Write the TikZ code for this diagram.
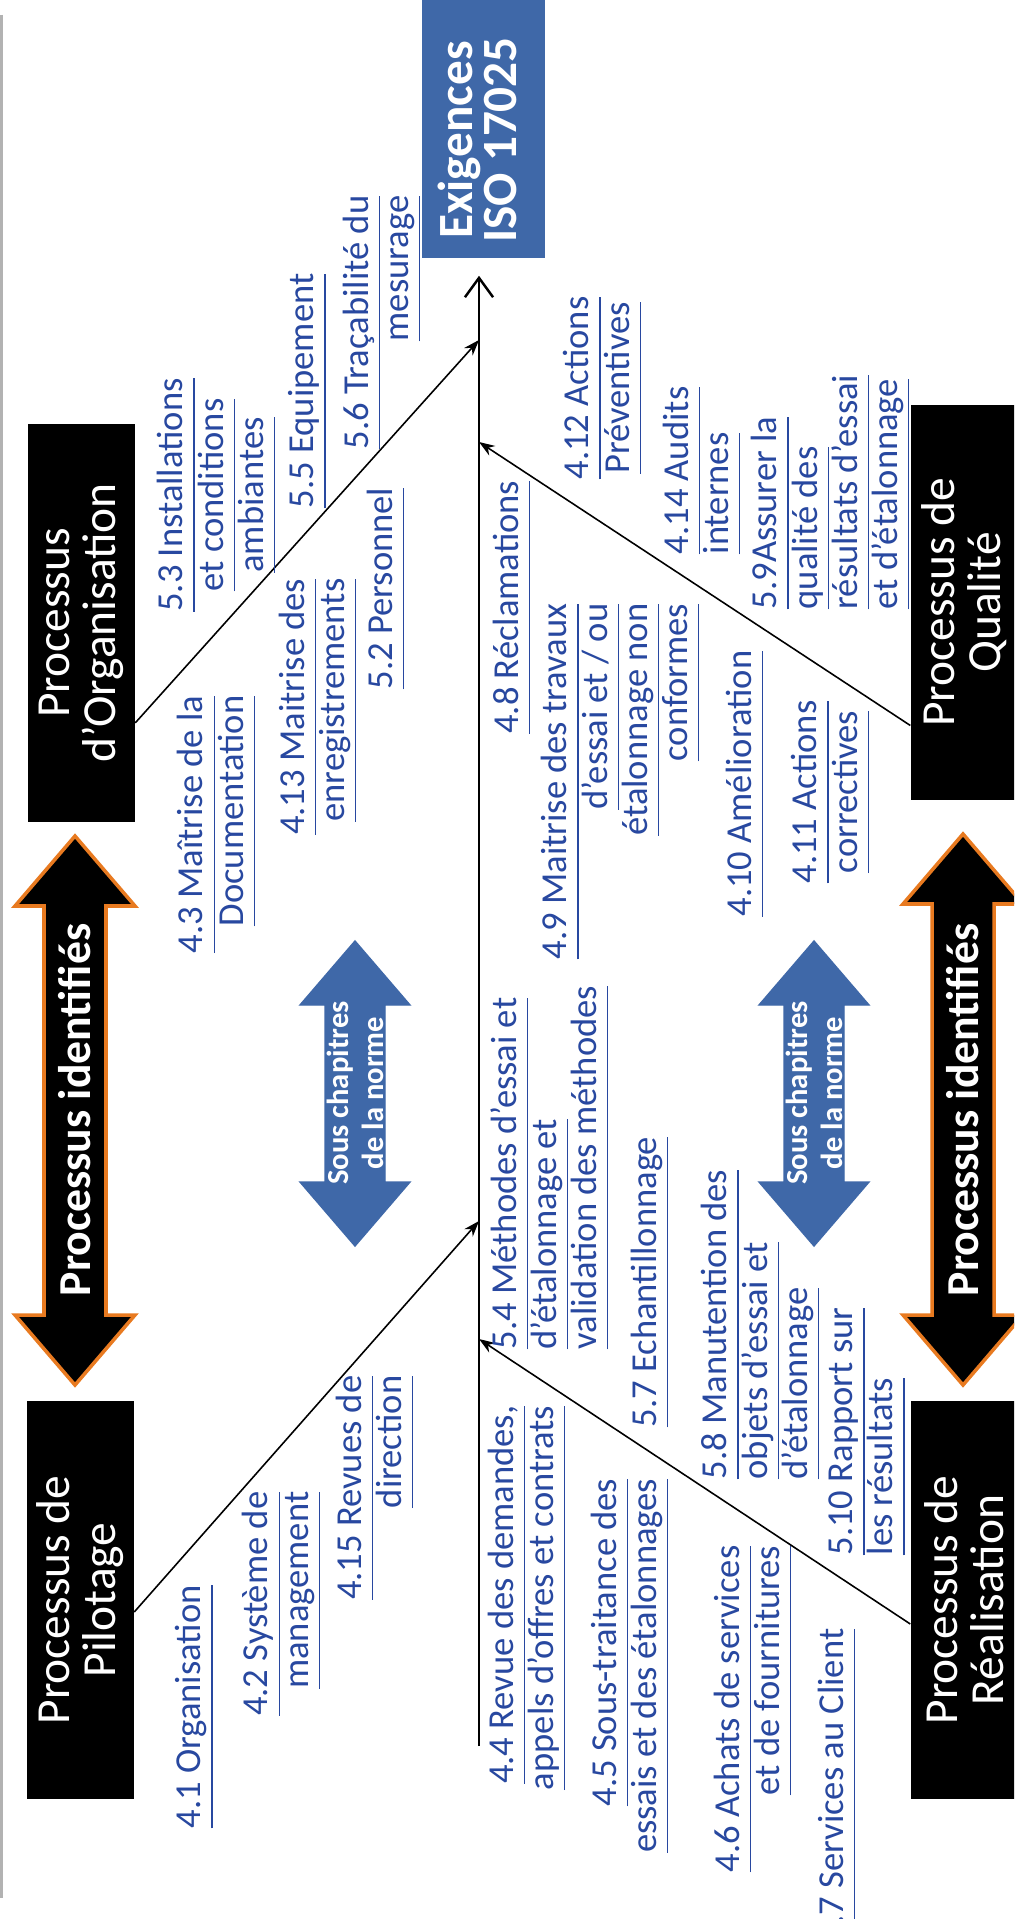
\documentclass[tikz,border=0pt]{standalone}
\usepackage{fontspec}
\setmainfont{Carlito}
\usetikzlibrary{arrows.meta,calc}

\definecolor{linkblue}{RGB}{40,72,160}
\definecolor{isoblue}{RGB}{63,104,168}
\definecolor{halo}{RGB}{232,122,32}

% underlined chapter reference
\newcommand{\lnk}[1]{\underline{#1\vphantom{gj}}}
% vertical double arrow: style, x, top tip, bottom tip, head length, half head, half shaft
\newcommand{\dblarrow}[7]{\draw[#1] (#2,#3) -- ({#2+#6},{#3+#5}) -- ({#2+#7},{#3+#5}) -- ({#2+#7},{#4-#5}) -- ({#2+#6},{#4-#5}) -- (#2,#4) -- ({#2-#6},{#4-#5}) -- ({#2-#7},{#4-#5}) -- ({#2-#7},{#3+#5}) -- ({#2-#6},{#3+#5}) -- cycle;}

\begin{document}
\begin{tikzpicture}[x=0.01cm, y=-0.01cm,
		lbl/.style={rotate=90, inner sep=0pt, text=linkblue, align=center, font=\fontsize{10.4}{11.4}\selectfont},
		procbox/.style={rotate=90, fill=black, text=white, inner sep=0pt, align=center, minimum width=3.98cm, minimum height=1.06cm, font=\fontsize{13.5}{13.1}\selectfont},
		branch/.style={line width=0.45pt, -{Stealth[length=4.5pt,width=3.2pt]}}]
		\fill[white] (0,0) rectangle (1014,1919);
		\useasboundingbox (0,0) rectangle (1014,1919);
		\clip (0,0) rectangle (1014,1919);
		
		\draw[gray!60, line width=0.6pt] (1.5,15) -- (1.5,1898);
		
		% the two black and the two blue arrows
		\dblarrow{draw=halo, line width=1pt, fill=black}{75}{836}{1385}{70}{60}{31}
		\dblarrow{draw=halo, line width=1pt, fill=black}{963}{834}{1385}{70}{60}{31}
		\dblarrow{draw=isoblue, fill=isoblue}{355}{941}{1246}{64}{55}{30}
		\dblarrow{draw=isoblue, fill=isoblue}{814}{941}{1246}{64}{55}{30}
		\node[rotate=90, text=white, font=\bfseries\fontsize{13}{14}\selectfont] (identPil) at (75,1110) {Processus identifiés};
		\node[rotate=90, text=white, font=\bfseries\fontsize{13}{14}\selectfont] (identQual) at (963,1110) {Processus identifiés};
		\node[rotate=90, text=white, align=center, font=\bfseries\fontsize{8.7}{10}\selectfont] (normeL) at (355,1093) {Sous chapitres\\de la norme};
		\node[rotate=90, text=white, align=center, font=\bfseries\fontsize{8.7}{10}\selectfont] (normeR) at (814,1093) {Sous chapitres\\de la norme};
		
		% process boxes
		\node[procbox] (org) at (81.5,623) {Processus\\d’Organisation};
		\node[procbox] (pil) at (80.5,1600) {Processus de\\Pilotage};
		\node[procbox] (real) at (964,1600) {Processus de\\Réalisation};
		\node[procbox, minimum width=3.95cm] (qual) at (964,602.5) {Processus de\\Qualité};
		\node[rotate=90, fill=isoblue, inner sep=0pt, minimum width=2.8cm, minimum height=1.23cm] (exig) at (483.5,118) {};
		\node[rotate=90, text=white, align=center, font=\bfseries\fontsize{14}{12.5}\selectfont] (exigText) at (477,140) {Exigences\\ISO 17025};
		
		% spine and branches
		\coordinate (tail) at (479,1746);
		\coordinate (jOrg) at (479,340);
		\coordinate (jQual) at (479,442);
		\coordinate (jPil) at (479,1221);
		\coordinate (jReal) at (479,1339);
		\draw[line width=0.7pt, -{Straight Barb[length=5.5pt,width=8pt]}, shorten >=0.17cm] (tail) -- (tail |- exig.west);
		\draw[branch] ($(org.south west)!0.25!(org.south east)$) -- (jOrg);
		\draw[branch] ($(pil.south west)!0.47!(pil.south east)$) -- (jPil);
		\draw[branch] ($(real.north west)!0.44!(real.north east)$) -- (jReal);
		\draw[branch] ($(qual.north west)!0.19!(qual.north east)$) -- (jQual);
		
		% Pilotage
		\node[lbl, anchor=west] (l41) at (195,1829) {\lnk{4.1 Organisation}};
		\node[lbl, anchor=east, align=right] (l42) at (282,1491) {\lnk{4.2 Système de}\\\lnk{management}};
		\node[lbl, anchor=east, align=right] (l415) at (375,1375) {\lnk{4.15 Revues de}\\\lnk{direction}};
		
		% Organisation
		\node[lbl, anchor=east, align=right] (l43) at (217,695) {\lnk{4.3 Maîtrise de la}\\\lnk{Documentation}};
		\node[lbl, anchor=east, align=right] (l413) at (318,578) {\lnk{4.13 Maitrise des}\\\lnk{enregistrements}};
		\node[lbl, anchor=west] (l52) at (386,690) {\lnk{5.2 Personnel}};
		\node[lbl] (l53) at (217,495) {\lnk{5.3 Installations}\\\lnk{et conditions}\\\lnk{ambiantes}};
		\node[lbl, anchor=west] (l55) at (308,509) {\lnk{5.5 Equipement}};
		\node[lbl, anchor=east, align=right] (l56) at (382,195) {\lnk{5.6 Traçabilité du}\\\lnk{mesurage}};
		
		% Realisation
		\node[lbl, anchor=east, align=right] (l44) at (527,1405) {\lnk{4.4 Revue des demandes,}\\\lnk{appels d’offres et contrats}};
		\node[lbl, anchor=east, align=right] (l45) at (630,1478) {\lnk{4.5 Sous-traitance des}\\\lnk{essais et des étalonnages}};
		\node[lbl, anchor=east, align=right] (l46) at (753,1545) {\lnk{4.6 Achats de services}\\\lnk{et de fournitures}};
		\node[lbl, anchor=east] (l47) at (837,1628) {\lnk{4.7 Services au Client}};
		\node[lbl, anchor=west, align=left] (l510) at (867,1556) {\lnk{5.10 Rapport sur}\\\lnk{les résultats}};
		\node[lbl, anchor=west, align=left] (l58) at (761,1480) {\lnk{5.8 Manutention des}\\\lnk{objets d’essai et}\\\lnk{d’étalonnage}};
		\node[lbl, anchor=west] (l57) at (650,1428) {\lnk{5.7 Echantillonnage}};
		\node[lbl, anchor=west, align=left] (l54) at (550,1350) {\lnk{5.4 Méthodes d’essai et}\\\lnk{d’étalonnage et}\\\lnk{validation des méthodes}};
		
		% Qualite
		\node[lbl, anchor=east] (l48) at (512,480) {\lnk{4.8 Réclamations}};
		\node[lbl, anchor=east, align=right] (l49) at (621,603) {\lnk{4.9 Maitrise des travaux}\\\lnk{d’essai et / ou}\\\lnk{étalonnage non}\\\lnk{conformes}};
		\node[lbl, anchor=east] (l410) at (745,650) {\lnk{4.10 Amélioration}};
		\node[lbl] (l411) at (831,792) {\lnk{4.11 Actions}\\\lnk{correctives}};
		\node[lbl] (l412) at (603,388) {\lnk{4.12 Actions}\\\lnk{Préventives}};
		\node[lbl, anchor=west, align=left] (l414) at (702,555) {\lnk{4.14 Audits}\\\lnk{internes}};
		\node[lbl, anchor=west, align=left] (l59) at (831,610) {\lnk{5.9Assurer la}\\\lnk{qualité des}\\\lnk{résultats d’essai}\\\lnk{et d’étalonnage}};
\end{tikzpicture}
\end{document}
